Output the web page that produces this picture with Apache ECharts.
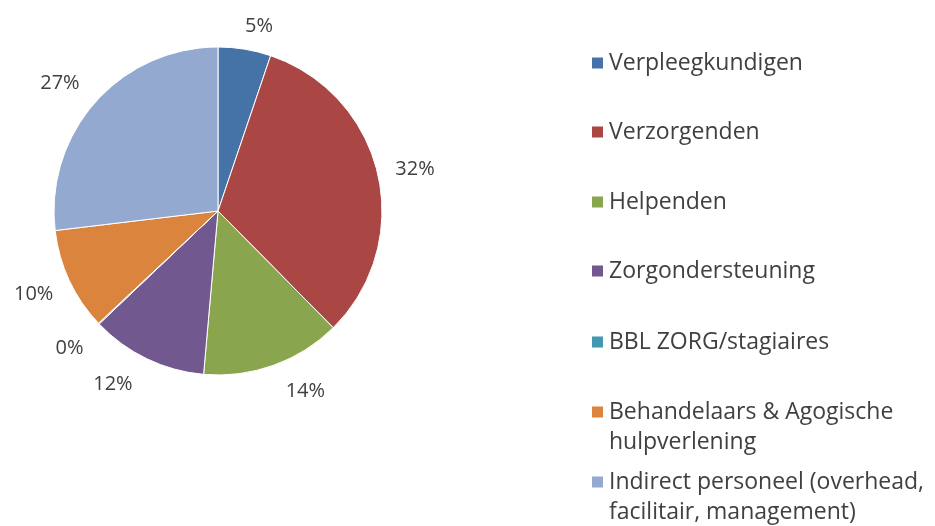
<!DOCTYPE html>
<html>
<head>
<meta charset="utf-8">
<script src="https://cdn.jsdelivr.net/npm/echarts@6/dist/echarts.min.js"></script>
<style>html,body{margin:0;padding:0;background:#fff}#c{width:935px;height:526px}</style>
</head>
<body>
<div id="c"></div>
<script>
const categories = ['Verpleegkundigen','Verzorgenden','Helpenden','Zorgondersteuning','BBL ZORG/stagiaires','Behandelaars & Agogische\nhulpverlening','Indirect personeel (overhead,\nfacilitair, management)'];
const values = [5.2, 32.4, 13.8, 11.5, 0.1, 10.1, 26.9];
const colors = ['#4572A7','#AA4643','#89A54E','#71588F','#4198AF','#DB843D','#93A9CF'];
// style only: fine placement tweaks of the percentage labels
const labelOffsets = [[-8,-2],[-8,0],[0,6],[0,7],[5,10],[8,5],[5,-5]];
const legendCenters = [63, 132, 202, 271, 342, 412, 482];

const FONT = 'Open Sans';
const legends = categories.map((name, i) => {
  const twoLine = name.indexOf('\n') >= 0;
  return {
    data: [name],
    orient: 'vertical',
    left: 590,
    top: legendCenters[i] - (twoLine ? 45 : 15),
    padding: 0,
    itemWidth: 13,
    itemHeight: 13,
    selectedMode: false,
    icon: 'rect',
    formatter: n => (twoLine ? ' \n' : '') + n,
    textStyle: { fontFamily: FONT, fontSize: 23, color: '#404040', lineHeight: 30 }
  };
});

const chart = echarts.init(document.getElementById('c'));
chart.setOption({
  animation: false,
  color: colors,
  legend: legends,
  series: [{
    type: 'pie',
    center: [218, 211],
    radius: 164,
    startAngle: 90,
    clockwise: true,
    avoidLabelOverlap: false,
    minAngle: 0,
    itemStyle: { borderColor: '#fff', borderWidth: 1 },
    label: {
      show: true, position: 'outside',
      fontFamily: FONT, fontSize: 20, color: '#404040',
      formatter: p => Math.round(p.value) + '%'
    },
    labelLine: { show: false, length: 21, length2: 0 },
    emphasis: { disabled: true },
    data: categories.map((n, i) => ({ name: n, value: values[i], label: { offset: labelOffsets[i] } }))
  }]
});
</script>
</body>
</html>
